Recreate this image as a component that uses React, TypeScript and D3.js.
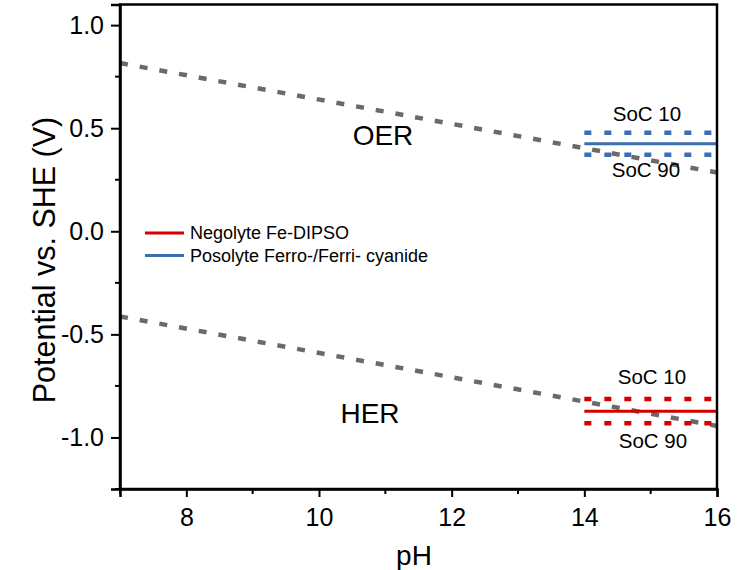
import React, { useEffect, useRef } from "react";
import * as d3 from "d3";

// water stability limits (pH, V vs SHE)
const oerLine = [
  { ph: 7, v: 0.816 },
  { ph: 16, v: 0.285 },
];
const herLine = [
  { ph: 7, v: -0.413 },
  { ph: 16, v: -0.944 },
];

// electrolyte potentials over pH 14-16
const phRange = [14, 16];
const posolyte = { mid: 0.425, soc10: 0.478, soc90: 0.371 };
const negolyte = { mid: -0.873, soc10: -0.814, soc90: -0.931 };

const xTicks = [8, 10, 12, 14, 16];
const xMinor = [7, 9, 11, 13, 15];
const yTicks = [-1.0, -0.5, 0.0, 0.5, 1.0];
const yMinor = [-1.25, -0.75, -0.25, 0.25, 0.75];

const legendItems = [
  { label: "Negolyte Fe-DIPSO", color: "#d40000" },
  { label: "Posolyte Ferro-/Ferri- cyanide", color: "#3b6db4" },
];

const W = 753;
const H = 570;
const m = { left: 120, right: 36, top: 4.5, bottom: 81 };
const FONT = "Liberation Sans, Arial, sans-serif";

const App = () => {
  const ref = useRef(null);

  const x = d3.scaleLinear().domain([7, 16]).range([m.left, W - m.right]);
  const y = d3.scaleLinear().domain([-1.25, 1.1]).range([H - m.bottom, m.top]);

  useEffect(() => {
    const g = d3.select(ref.current);
    g.selectAll("*").remove();

    const line = d3
      .line()
      .x(d => x(d.ph))
      .y(d => y(d.v));

    // dashed water lines
    [oerLine, herLine].forEach(data => {
      g.append("path")
        .attr("d", line(data))
        .attr("fill", "none")
        .attr("stroke", "#6a6a6a")
        .attr("stroke-width", 4.5)
        .attr("stroke-dasharray", "8 12");
    });

    // electrolyte lines
    const electro = [
      { d: posolyte, color: legendItems[1].color },
      { d: negolyte, color: legendItems[0].color },
    ];
    electro.forEach(({ d, color }) => {
      ["soc10", "soc90"].forEach(k => {
        g.append("line")
          .attr("x1", x(phRange[0]))
          .attr("x2", x(phRange[1]))
          .attr("y1", y(d[k]))
          .attr("y2", y(d[k]))
          .attr("stroke", color)
          .attr("stroke-width", 4.5)
          .attr("stroke-dasharray", "7 13");
      });
      g.append("line")
        .attr("x1", x(phRange[0]))
        .attr("x2", x(phRange[1]))
        .attr("y1", y(d.mid))
        .attr("y2", y(d.mid))
        .attr("stroke", color)
        .attr("stroke-width", 3);
    });

    // frame
    g.append("rect")
      .attr("x", m.left)
      .attr("y", m.top)
      .attr("width", W - m.left - m.right)
      .attr("height", H - m.top - m.bottom)
      .attr("fill", "none")
      .attr("stroke", "black")
      .attr("stroke-width", 2.5);

    const xAxis = g
      .append("g")
      .attr("transform", `translate(0,${H - m.bottom})`)
      .call(d3.axisBottom(x).tickValues(xTicks).tickSize(8).tickPadding(11).tickFormat(d => String(d)));
    xAxis.append("g").selectAll("line").data(xMinor).enter().append("line")
      .attr("x1", d => x(d)).attr("x2", d => x(d)).attr("y1", 0).attr("y2", 5)
      .attr("stroke", "black").attr("stroke-width", 2);

    const yAxis = g
      .append("g")
      .attr("transform", `translate(${m.left},0)`)
      .call(d3.axisLeft(y).tickValues(yTicks).tickSize(9).tickPadding(7).tickFormat(d => d.toFixed(1)));
    yAxis.append("g").selectAll("line").data(yMinor).enter().append("line")
      .attr("x1", 0).attr("x2", -5).attr("y1", d => y(d)).attr("y2", d => y(d))
      .attr("stroke", "black").attr("stroke-width", 2);

    [xAxis, yAxis].forEach(a => {
      a.select(".domain").attr("stroke-width", 2.5);
      a.selectAll(".tick line").attr("stroke-width", 2);
      a.selectAll(".tick text")
        .attr("fill", "black")
        .style("font-family", FONT)
        .style("font-size", "25px");
    });

    // annotations
    const txt = (tx, ty, s, size) =>
      g.append("text")
        .attr("x", tx)
        .attr("y", ty)
        .attr("text-anchor", "middle")
        .attr("dominant-baseline", "central")
        .style("font-family", FONT)
        .style("font-size", `${size}px`)
        .text(s);

    txt(383, 135, "OER", 28);
    txt(370, 413, "HER", 28);
    txt(647, 113, "SoC 10", 20.5);
    txt(646, 169, "SoC 90", 20.5);
    txt(652, 376, "SoC 10", 20.5);
    txt(653, 440, "SoC 90", 20.5);

    // legend
    legendItems.forEach((it, i) => {
      const ly = 233 + i * 22.5;
      g.append("line")
        .attr("x1", 145).attr("x2", 184).attr("y1", ly).attr("y2", ly)
        .attr("stroke", it.color).attr("stroke-width", 3);
      g.append("text")
        .attr("x", 190).attr("y", ly)
        .attr("dominant-baseline", "central")
        .style("font-family", FONT)
        .style("font-size", "18px")
        .text(it.label);
    });

    // axis titles
    g.append("text")
      .attr("x", 414)
      .attr("y", 565)
      .attr("text-anchor", "middle")
      .style("font-family", FONT)
      .style("font-size", "28px")
      .text("pH");
    g.append("text")
      .attr("transform", `translate(55,260) rotate(-90)`)
      .attr("text-anchor", "middle")
      .style("font-family", FONT)
      .style("font-size", "30.5px")
      .text("Potential vs. SHE (V)");
  }, []);

  return (
    <svg width={W} height={H} style={{ position: "absolute", left: 0, top: 0, background: "white" }}>
      <g ref={ref} />
    </svg>
  );
};

export default App;
